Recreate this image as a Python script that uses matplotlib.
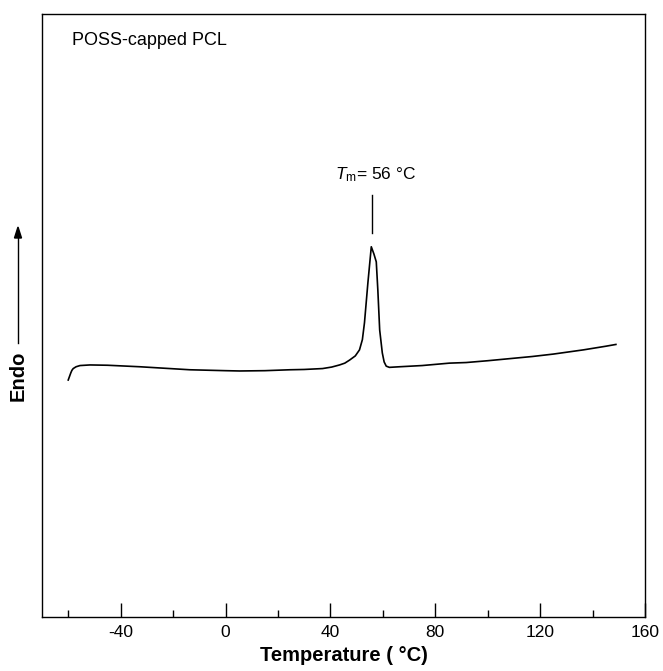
import numpy as np
import matplotlib.pyplot as plt
from matplotlib.ticker import MultipleLocator

plt.rcParams['font.family'] = ['Liberation Sans', 'DejaVu Sans']
plt.rcParams['mathtext.fontset'] = 'custom'
plt.rcParams['mathtext.rm'] = 'Liberation Sans'
plt.rcParams['mathtext.it'] = 'Liberation Sans:italic'
plt.rcParams['axes.unicode_minus'] = False

# DSC trace (heat flow in arbitrary units, endo up)
temp = [-60.0, -59.5, -59.0, -58.6, -58.1, -57.0, -55.5, -51.7, -45.0, -32.7,
        -13.6, 0.0, 5.4, 15.0, 24.5, 30.0, 37.0, 40.5, 43.5, 45.5,
        47.3, 49.5, 51.1, 52.2, 53.0, 54.3, 55.6, 56.6, 57.5, 58.1,
        58.8, 59.8, 60.5, 61.3, 62.5, 66.4, 75.0, 85.4, 91.8, 100.0,
        117.0, 125.0, 136.5, 145.0, 148.9]
heat = [39.3, 39.9, 40.5, 40.9, 41.2, 41.5, 41.7, 41.8, 41.75, 41.5,
        41.0, 40.85, 40.8, 40.85, 41.0, 41.05, 41.2, 41.45, 41.8, 42.1,
        42.6, 43.3, 44.3, 46.0, 48.8, 55.4, 61.4, 60.2, 58.9, 54.2,
        47.6, 43.8, 42.3, 41.6, 41.4, 41.5, 41.7, 42.1, 42.2, 42.5,
        43.2, 43.6, 44.3, 44.9, 45.2]
tm = 56
sample = "POSS-capped PCL"

fig = plt.figure(figsize=(6.63, 6.71), dpi=100)
ax = fig.add_axes([42 / 663, 1 - 617 / 671, 603 / 663, 603 / 671])

ax.plot(temp, heat, color='black', lw=1.2)
ax.set_xlim(-70, 160)
ax.set_ylim(0, 100)

# Tm marker line and label
peak = max(heat)
ax.plot([tm, tm], [peak + 2.3, peak + 8.6], color='black', lw=1.0)
ax.text(tm + 1.2, peak + 12, r"$T_\mathrm{m}$= 56 °C", ha='center', va='center',
        fontsize=12.5)

ax.text(0.049, 0.9486, sample, transform=ax.transAxes, fontsize=13,
        ha='left', va='baseline')

ax.xaxis.set_major_locator(MultipleLocator(40))
ax.xaxis.set_minor_locator(MultipleLocator(20))
ax.tick_params(axis='x', which='major', direction='in', length=10, width=1.0,
               labelsize=12.5, pad=6)
ax.tick_params(axis='x', which='minor', direction='in', length=5, width=1.0)
ax.set_yticks([])
for s in ax.spines.values():
    s.set_linewidth(1.0)

ax.set_xlabel("Temperature ( °C)", fontsize=14.5, fontweight='bold', labelpad=4)

# Endo label with upward arrow
fig.text(18 / 663, 1 - 376 / 671, "Endo", rotation=90, fontsize=14.5,
         fontweight='bold', ha='center', va='center')
fig.add_artist(plt.Line2D([18 / 663, 18 / 663], [1 - 343 / 671, 1 - 236 / 671],
                          color='black', lw=1.0))
fig.patches.append(plt.Polygon([[14.5 / 663, 1 - 238 / 671],
                                [21.5 / 663, 1 - 238 / 671],
                                [18 / 663, 1 - 227 / 671]],
                               closed=True, color='black',
                               transform=fig.transFigure, figure=fig))

fig.savefig("out.png", dpi=100)
